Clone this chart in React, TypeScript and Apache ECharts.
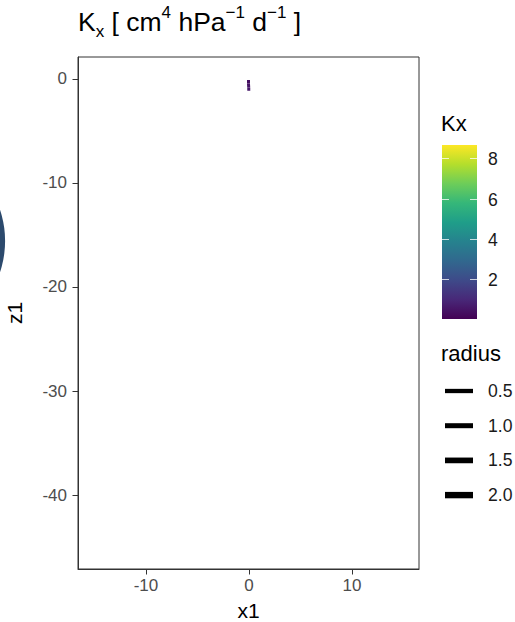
import React, { useEffect, useRef } from "react";
import * as echarts from "echarts";

// ---- data ----
const segX = [-0.05, -0.05, -0.03, -0.02];
const segZ = [-0.1, -0.45, -0.8, -1.15];
const segKx = [0.3, 0.4, 0.5, 0.6];
const xTicks = [-10, 0, 10];
const yTicks = [0, -10, -20, -30, -40];
const kxRange = [0, 8.67];
const kxTicks = [2, 4, 6, 8];
const radiusValues = [0.5, 1.0, 1.5, 2.0];
const viridis = ["#440154", "#482878", "#3E4A89", "#31688E", "#26828E", "#1F9E89", "#35B779", "#6DCD59", "#B4DE2C", "#FDE725"];

const FONT = "'Liberation Sans', Arial, Helvetica, sans-serif";

export default function App() {
  const ref = useRef<HTMLDivElement>(null);
  useEffect(() => {
    if (!ref.current) return;
    const chart = echarts.init(ref.current, null, { renderer: "svg" });

    const gridLeft = 78, gridRight = 96, gridTop = 57, gridBottom = 53;

    const kxColor = (v: number) =>
      echarts.color.lerp((v - kxRange[0]) / (kxRange[1] - kxRange[0]), viridis) as string;

    // colorbar geometry
    const cbX = 442, cbY = 145, cbW = 35, cbH = 174;
    const kxToY = (v: number) => cbY + cbH - ((v - kxRange[0]) / (kxRange[1] - kxRange[0])) * cbH;
    const graphics: any[] = [];
    graphics.push({
      type: "text", left: 441, top: 112,
      style: { text: "Kx", font: `22px ${FONT}`, fill: "#000" },
    });
    graphics.push({
      type: "rect", shape: { x: cbX, y: cbY, width: cbW, height: cbH },
      style: {
        fill: new echarts.graphic.LinearGradient(0, 1, 0, 0,
          viridis.map((c, i) => ({ offset: i / (viridis.length - 1), color: c }))),
      },
    });
    kxTicks.forEach((t) => {
      const y = Math.round(kxToY(t)) + 0.5;
      graphics.push({ type: "line", shape: { x1: cbX, y1: y, x2: cbX + 7, y2: y }, style: { stroke: "rgba(255,255,255,0.75)", lineWidth: 1 } });
      graphics.push({ type: "line", shape: { x1: cbX + cbW - 7, y1: y, x2: cbX + cbW, y2: y }, style: { stroke: "rgba(255,255,255,0.75)", lineWidth: 1 } });
      graphics.push({
        type: "text", x: 488, y: y,
        style: { text: String(t), font: `17.6px ${FONT}`, fill: "#1a1a1a", verticalAlign: "middle", align: "left" },
      });
    });
    // radius legend
    graphics.push({
      type: "text", left: 441, top: 342,
      style: { text: "radius", font: `22px ${FONT}`, fill: "#000" },
    });
    radiusValues.forEach((r, i) => {
      const y = 391 + i * 34.7;
      graphics.push({ type: "line", shape: { x1: 445, y1: y, x2: 473, y2: y }, style: { stroke: "#000", lineWidth: 3.6 + 1.4 * r } });
      graphics.push({
        type: "text", x: 488, y: y,
        style: { text: r.toFixed(1), font: `17.6px ${FONT}`, fill: "#1a1a1a", verticalAlign: "middle", align: "left" },
      });
    });
    // partial circle at left edge
    graphics.push({
      type: "circle", shape: { cx: -93.5, cy: 241, r: 98.6 },
      style: { fill: "#2c4a6d" }, z: 100,
    });

    const series = segX.slice(0, -1).map((x, i) => ({
      type: "line",
      data: [[x, segZ[i]], [segX[i + 1], segZ[i + 1]]],
      showSymbol: false, symbol: "none",
      lineStyle: { width: 3, color: kxColor((segKx[i] + segKx[i + 1]) / 2) },
      itemStyle: { color: kxColor((segKx[i] + segKx[i + 1]) / 2) },
    }));

    chart.setOption({
      animation: false,
      title: {
        left: 73, top: -1,
        text: "{n|K}{sub|x}{n| [ cm}{sup|4}{n| hPa}{sup|−1}{n| d}{sup|−1}{n| ]}",
        textStyle: {
          fontFamily: FONT, fontWeight: "normal",
          rich: {
            n: { fontSize: 26.5, fontFamily: FONT, fontWeight: "normal", color: "#000", lineHeight: 36 },
            sub: { fontSize: 17, fontFamily: FONT, fontWeight: "normal", color: "#000", verticalAlign: "bottom", lineHeight: 36 },
            sup: { fontSize: 17, fontFamily: FONT, fontWeight: "normal", color: "#000", verticalAlign: "top", lineHeight: 36 },
          },
        },
      },
      grid: {
        left: gridLeft, right: gridRight, top: gridTop, bottom: gridBottom,
        outerBoundsMode: "none", containLabel: false,
        show: true, borderColor: "#333", borderWidth: 1, backgroundColor: "#fff",
      },
      xAxis: {
        type: "value", min: -16.6, max: 16.5,
        name: "x1", nameLocation: "middle", nameGap: 31,
        nameTextStyle: { fontSize: 21, fontFamily: FONT, color: "#000" },
        axisLine: { show: true, onZero: false, lineStyle: { color: "#333" } },
        axisTick: { show: true, length: 5.5, customValues: xTicks, lineStyle: { color: "#333" } },
        axisLabel: { customValues: xTicks, fontSize: 17, fontFamily: FONT, color: "#4d4d4d", margin: 8 },
        splitLine: { show: false },
      },
      yAxis: {
        type: "value", min: -47.1, max: 2.1,
        name: "z1", nameLocation: "middle", nameGap: 53,
        nameTextStyle: { fontSize: 21, fontFamily: FONT, color: "#000" },
        axisLine: { show: true, onZero: false, lineStyle: { color: "#333" } },
        axisTick: { show: true, length: 5.5, customValues: yTicks, lineStyle: { color: "#333" } },
        axisLabel: { customValues: yTicks, fontSize: 17, fontFamily: FONT, color: "#4d4d4d", margin: 11 },
        splitLine: { show: false },
      },
      series,
      graphic: graphics,
    });
    return () => chart.dispose();
  }, []);
  return <div ref={ref} style={{ width: 515, height: 622, position: "absolute", left: 0, top: 0 }} />;
}
